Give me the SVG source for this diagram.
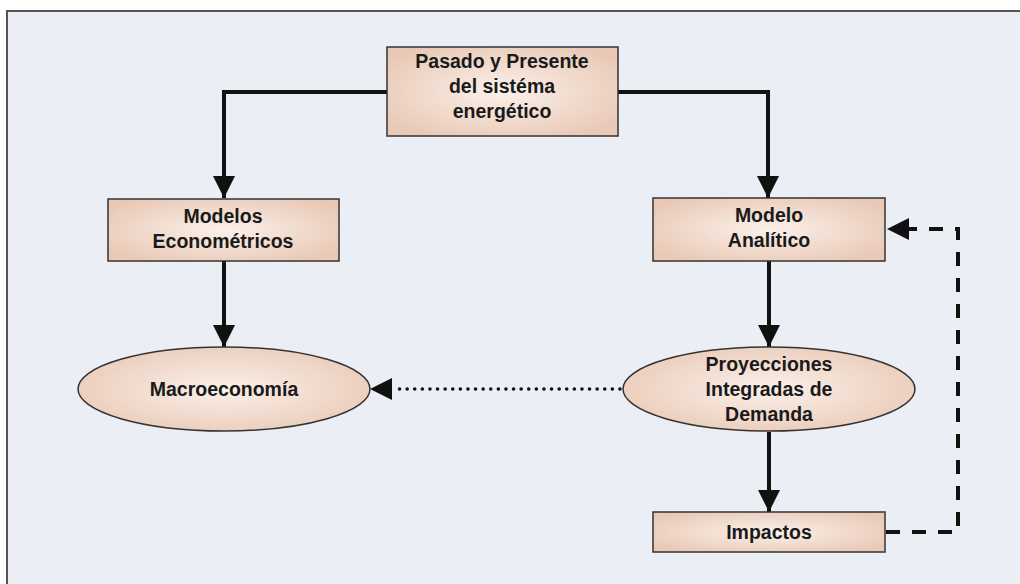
<svg xmlns="http://www.w3.org/2000/svg" width="1020" height="584" viewBox="0 0 1020 584">
<defs>
<radialGradient id="fill" cx="50%" cy="50%" r="60%">
<stop offset="0" stop-color="#fbf0ea"/>
<stop offset="1" stop-color="#e9c9b6"/>
</radialGradient>
<marker id="ah" viewBox="0 0 10 10" refX="10" refY="5" markerWidth="5.5" markerHeight="5.5" orient="auto" markerUnits="strokeWidth">
<path d="M0,0 L10,5 L0,10 z" fill="#111"/>
</marker>
<marker id="ahs" viewBox="0 0 10 10" refX="10" refY="5" markerWidth="22" markerHeight="22" orient="auto" markerUnits="userSpaceOnUse">
<path d="M0,0 L10,5 L0,10 z" fill="#111"/>
</marker>
</defs>
<style>
.node{fill:url(#fill);stroke:#333;stroke-width:1.5}
.t{font-family:"Liberation Sans",Arial,sans-serif;font-weight:bold;font-size:19.5px;fill:#1a1a1a;text-anchor:middle}
.solid{fill:none;stroke:#111;stroke-width:4;marker-end:url(#ah)}
.dot{fill:none;stroke:#111;stroke-width:3.5;stroke-dasharray:0.1 7.5;stroke-linecap:round}
.dash{fill:none;stroke:#111;stroke-width:4;stroke-dasharray:14 12}
</style>
<rect x="0" y="0" width="1020" height="584" fill="#ffffff"/>
<rect x="7" y="11" width="1030" height="600" fill="#eceef6" stroke="#555" stroke-width="2"/>
<g id="connectors">
<path class="solid" d="M387,92 H224 V198"/>
<path class="solid" d="M618,92 H768 V198"/>
<path class="solid" d="M224,261 V347"/>
<path class="solid" d="M769,261 V347"/>
<path class="solid" d="M769,432 V512"/>
<path class="dot" d="M620,389 H396"/>
<path d="M392,389 L370,389" fill="none" stroke="none" marker-end="url(#ahs)"/>
<path class="dash" d="M886,532 H958 V229 H905"/>
<path d="M906,229 L887,229" fill="none" stroke="none" marker-end="url(#ahs)"/>
</g>
<g id="n-pasado">
<rect class="node" x="387" y="47" width="231" height="89"/>
<text class="t" x="502" y="68">Pasado y Presente</text>
<text class="t" x="502" y="93">del sistéma</text>
<text class="t" x="502" y="118">energético</text>
</g>
<g id="n-econometricos">
<rect class="node" x="108" y="199" width="231" height="62"/>
<text class="t" x="223" y="223">Modelos</text>
<text class="t" x="223" y="248">Econométricos</text>
</g>
<g id="n-analitico">
<rect class="node" x="653" y="198" width="232" height="63"/>
<text class="t" x="769" y="222">Modelo</text>
<text class="t" x="769" y="247">Analítico</text>
</g>
<g id="n-macro">
<ellipse class="node" cx="224" cy="389" rx="146" ry="42"/>
<text class="t" x="224" y="396">Macroeconomía</text>
</g>
<g id="n-proyecciones">
<ellipse class="node" cx="769" cy="389" rx="146" ry="42"/>
<text class="t" x="769" y="371">Proyecciones</text>
<text class="t" x="769" y="396">Integradas de</text>
<text class="t" x="769" y="421">Demanda</text>
</g>
<g id="n-impactos">
<rect class="node" x="653" y="512" width="232" height="40"/>
<text class="t" x="769" y="539">Impactos</text>
</g>
</svg>
